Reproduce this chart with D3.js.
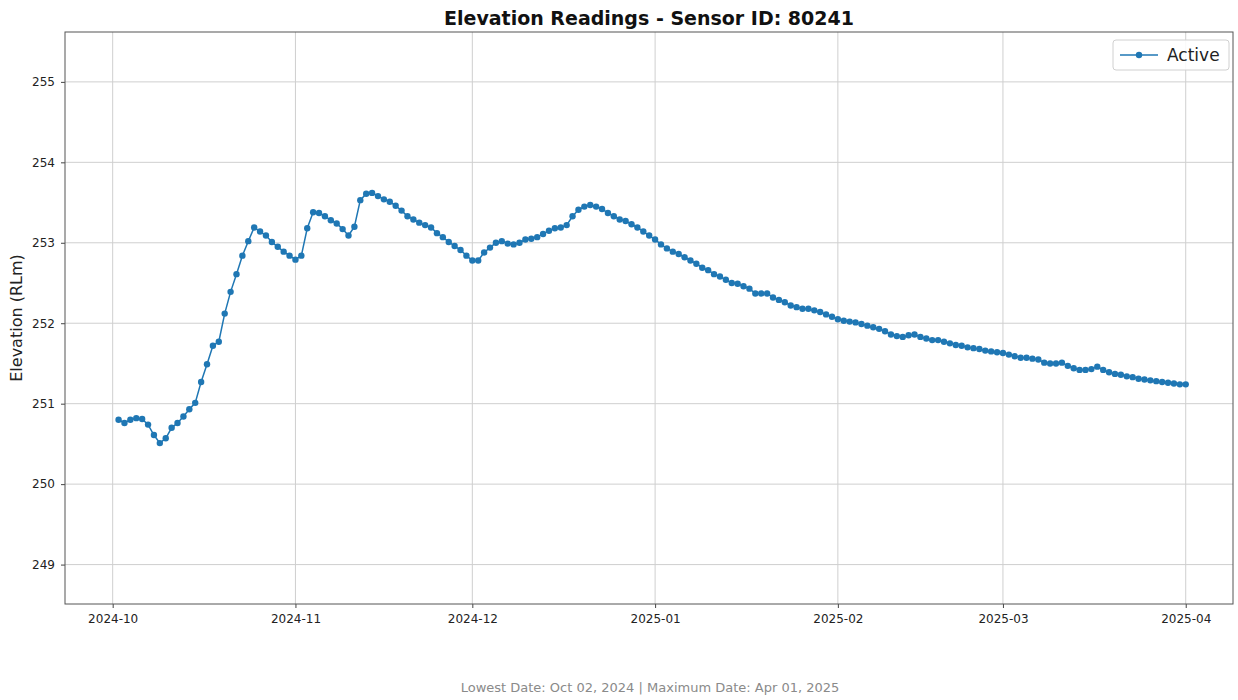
<!DOCTYPE html>
<html>
<head>
<meta charset="utf-8">
<script src="https://cdn.jsdelivr.net/npm/d3@7"></script>
<style>
  html, body { margin: 0; padding: 0; background: #fff; }
  svg { display: block; font-family: "DejaVu Sans", sans-serif; }
</style>
</head>
<body>
<svg id="chart" width="1238" height="700"></svg>
<script>
// ---- data ----
const chartTitle = "Elevation Readings - Sensor ID: 80241";
const yAxisLabel = "Elevation (RLm)";
const seriesName = "Active";
const footerText = "Lowest Date: Oct 02, 2024 | Maximum Date: Apr 01, 2025";
const firstDate = "2024-10-02";   // one reading per day from this date
const xTickLabels = ["2024-10", "2024-11", "2024-12", "2025-01", "2025-02", "2025-03", "2025-04"];
const yTickValues = [249, 250, 251, 252, 253, 254, 255];

const octValues = [250.80, 250.76, 250.80, 250.82, 250.81, 250.74, 250.61, 250.51, 250.57, 250.70,
  250.76, 250.84, 250.93, 251.01, 251.27, 251.49, 251.72, 251.77, 252.12, 252.39,
  252.61, 252.84, 253.02, 253.19, 253.14, 253.09, 253.01, 252.95, 252.89, 252.84];
const novValues = [252.79, 252.84, 253.18, 253.38, 253.37, 253.33, 253.28, 253.24, 253.17, 253.09,
  253.20, 253.53, 253.61, 253.62, 253.58, 253.54, 253.51, 253.46, 253.40, 253.33,
  253.29, 253.25, 253.22, 253.19, 253.12, 253.07, 253.01, 252.96, 252.91, 252.84];
const decValues = [252.78, 252.78, 252.88, 252.94, 253.00, 253.02, 252.99, 252.98, 253.00, 253.04,
  253.05, 253.07, 253.11, 253.15, 253.18, 253.19, 253.22, 253.33, 253.41, 253.45,
  253.47, 253.45, 253.42, 253.37, 253.33, 253.29, 253.27, 253.23, 253.19, 253.14, 253.09];
const janValues = [253.04, 252.98, 252.93, 252.89, 252.86, 252.82, 252.78, 252.74, 252.69, 252.66,
  252.61, 252.58, 252.54, 252.50, 252.49, 252.46, 252.43, 252.37, 252.37, 252.37,
  252.32, 252.29, 252.26, 252.22, 252.20, 252.18, 252.18, 252.16, 252.14, 252.11, 252.08];
const febValues = [252.05, 252.03, 252.02, 252.01, 251.99, 251.97, 251.95, 251.93, 251.90, 251.86,
  251.84, 251.83, 251.85, 251.86, 251.83, 251.81, 251.79, 251.79, 251.77, 251.75,
  251.73, 251.72, 251.70, 251.69, 251.68, 251.66, 251.65, 251.64];
const marValues = [251.63, 251.61, 251.59, 251.57, 251.57, 251.56, 251.55, 251.51, 251.50, 251.50,
  251.51, 251.47, 251.44, 251.42, 251.42, 251.43, 251.46, 251.42, 251.39, 251.37,
  251.36, 251.34, 251.33, 251.31, 251.30, 251.29, 251.28, 251.27, 251.26, 251.25, 251.24];
const aprValues = [251.24];

// ---- build ----
const values = [].concat(octValues, novValues, decValues, janValues, febValues, marValues, aprValues);
const start = d3.utcParse("%Y-%m-%d")(firstDate);
const data = values.map((v, i) => ({ date: d3.utcDay.offset(start, i), value: v }));

const svg = d3.select("#chart");
const margin = { left: 65, right: 1238 - 1233, top: 32, bottom: 700 - 604 };
const W = 1238, H = 700;

const minV = d3.min(values), maxV = d3.max(values);
const t0 = data[0].date, t1 = data[data.length - 1].date;
const span = t1 - t0;
const x = d3.scaleUtc()
  .domain([new Date(+t0 - span * 0.0502), new Date(+t1 + span * 0.0443)])
  .range([margin.left, W - margin.right]);
const y = d3.scaleLinear()
  .domain([minV - 2, maxV + 2])
  .range([H - margin.bottom, margin.top]);

const parseMonth = d3.utcParse("%Y-%m");
const xTicks = xTickLabels.map(parseMonth);

// grid
const g = svg.append("g");
g.selectAll(".vgrid").data(xTicks).join("line")
  .attr("x1", d => x(d)).attr("x2", d => x(d))
  .attr("y1", margin.top).attr("y2", H - margin.bottom)
  .attr("stroke", "#cfcfcf").attr("stroke-width", 1);
g.selectAll(".hgrid").data(yTickValues).join("line")
  .attr("y1", d => y(d)).attr("y2", d => y(d))
  .attr("x1", margin.left).attr("x2", W - margin.right)
  .attr("stroke", "#cfcfcf").attr("stroke-width", 1);

// axes
const xAxis = d3.axisBottom(x).tickValues(xTicks).tickFormat((d, i) => xTickLabels[i]).tickSize(4).tickPadding(6);
const yAxis = d3.axisLeft(y).tickValues(yTickValues).tickFormat(d3.format("d")).tickSize(4).tickPadding(6);
const gx = svg.append("g").attr("transform", `translate(0,${H - margin.bottom})`).call(xAxis);
const gy = svg.append("g").attr("transform", `translate(${margin.left},0)`).call(yAxis);
[gx, gy].forEach(a => {
  a.select(".domain").remove();
  a.selectAll(".tick line").attr("stroke", "#444");
  a.selectAll(".tick text").attr("fill", "#222").style("font-size", "12px").style("font-family", "DejaVu Sans, sans-serif");
});

// frame
svg.append("rect")
  .attr("x", margin.left).attr("y", margin.top)
  .attr("width", W - margin.right - margin.left).attr("height", H - margin.bottom - margin.top)
  .attr("fill", "none").attr("stroke", "#555").attr("stroke-width", 1);

// line + markers
const color = "#1f77b4";
svg.append("path").datum(data)
  .attr("fill", "none").attr("stroke", color).attr("stroke-width", 1.5)
  .attr("d", d3.line().x(d => x(d.date)).y(d => y(d.value)));
svg.append("g").selectAll("circle").data(data).join("circle")
  .attr("cx", d => x(d.date)).attr("cy", d => y(d.value)).attr("r", 3.2)
  .attr("fill", color);

// title
svg.append("text").attr("x", (margin.left + W - margin.right) / 2).attr("y", 25)
  .attr("text-anchor", "middle").style("font-size", "19px").style("font-weight", "bold")
  .attr("fill", "#111").text(chartTitle);

// y label
svg.append("text").attr("transform", `translate(22,${(margin.top + H - margin.bottom) / 2}) rotate(-90)`)
  .attr("text-anchor", "middle").style("font-size", "16px").attr("fill", "#222").text(yAxisLabel);

// legend
const lg = svg.append("g");
lg.append("rect").attr("x", 1113).attr("y", 40).attr("width", 116).attr("height", 30)
  .attr("rx", 3).attr("fill", "#fff").attr("fill-opacity", 0.85).attr("stroke", "#d0d0d0");
lg.append("line").attr("x1", 1120).attr("x2", 1158).attr("y1", 55).attr("y2", 55)
  .attr("stroke", color).attr("stroke-width", 1.5);
lg.append("circle").attr("cx", 1139).attr("cy", 55).attr("r", 3.2).attr("fill", color);
lg.append("text").attr("x", 1167).attr("y", 61).style("font-size", "17px").attr("fill", "#222").text(seriesName);

// footer
svg.append("text").attr("x", 650).attr("y", 692).attr("text-anchor", "middle")
  .style("font-size", "13px").attr("fill", "#8a8a8a").text(footerText);
</script>
</body>
</html>
